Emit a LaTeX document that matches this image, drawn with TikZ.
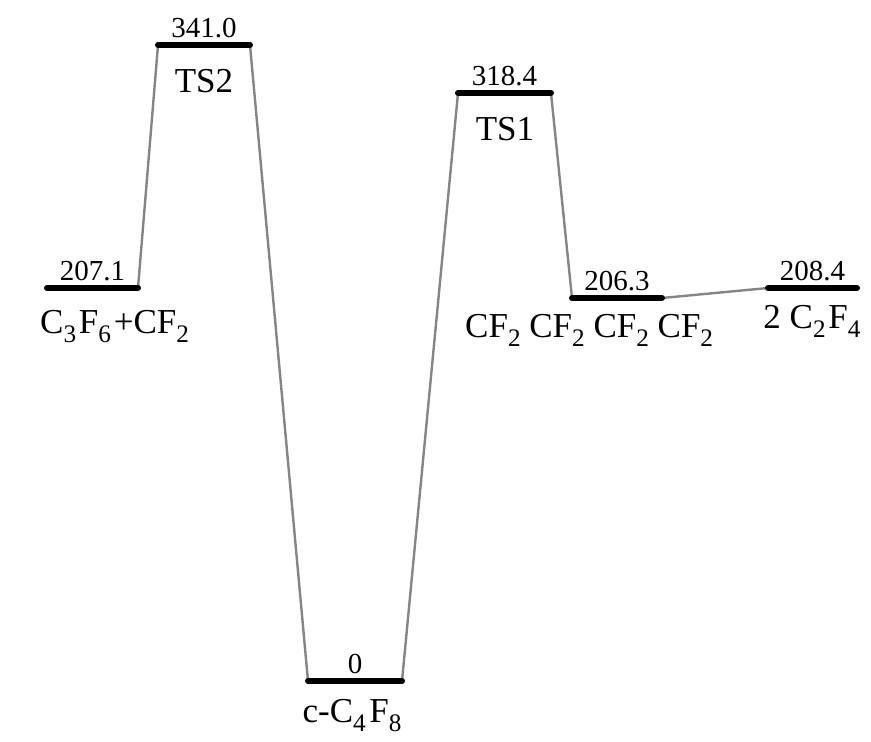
\documentclass[tikz,border=0pt]{standalone}
\usepackage{fontspec}
\setmainfont{Liberation Serif}
\usepackage{xcolor}
\definecolor{g1}{HTML}{858585}
\newcommand{\dn}[1]{\raisebox{-0.28em}{\scalebox{0.72}{#1}}}

\begin{document}
\begin{tikzpicture}[x=1pt,y=-1pt,
	level/.style={line width=6pt,line cap=round},
	link/.style={g1,line width=2.4pt},
	val/.style={anchor=base,inner sep=0pt,font=\fontsize{29}{34}\selectfont},
	spec/.style={anchor=base,inner sep=0pt,font=\fontsize{35}{42}\selectfont}]
	\useasboundingbox (0,0) rectangle (871,742);
	% energy levels
	\coordinate (r1) at (47,288);  \coordinate (r2) at (138,288);
	\coordinate (t2a) at (158,45); \coordinate (t2b) at (250,45);
	\coordinate (c1) at (308,681); \coordinate (c2) at (402,681);
	\coordinate (t1a) at (458,93); \coordinate (t1b) at (551,93);
	\coordinate (b1) at (572,298); \coordinate (b2) at (662,298);
	\coordinate (p1) at (768,288); \coordinate (p2) at (857,288);
	% connections
	\draw [link] (r2) -- (t2a);
	\draw [link] (t2b) -- (c1);
	\draw [link] (c2) -- (t1a);
	\draw [link] (t1b) -- (b1);
	\draw [link] (b2) -- (p1);
	% bars with values
	\draw [level] (r1) -- (r2) node[midway,val,yshift=8pt] (vr) {207.1};
	\draw [level] (t2a) -- (t2b) node[midway,val,yshift=8pt] (vt2) {341.0};
	\draw [level] (c1) -- (c2) node[midway,val,yshift=8pt] (vc) {0};
	\draw [level] (t1a) -- (t1b) node[midway,val,yshift=8pt] (vt1) {318.4};
	\draw [level] (b1) -- (b2) node[midway,val,yshift=8pt] (vb) {206.3};
	\draw [level] (p1) -- (p2) node[midway,val,yshift=8pt] (vp) {208.4};
	% species
	\node [spec,anchor=base west] (nr) at (40,333) {C\dn{3}\hspace{0.08em}F\dn{6}\hspace{0.08em}+CF\dn{2}};
	\node [spec] (nt2) at (204,92) {TS2};
	\node [spec] (nc) at (352,722) {c-C\dn{4}\hspace{0.1em}F\dn{8}};
	\node [spec] (nt1) at (505,140) {TS1};
	\node [spec,anchor=base west] (nb) at (465,337) {CF\dn{2} CF\dn{2} CF\dn{2} CF\dn{2}};
	\node [spec] (np) at (812,328) {2 C\dn{2}\hspace{0.08em}F\dn{4}};
\end{tikzpicture}
\end{document}
